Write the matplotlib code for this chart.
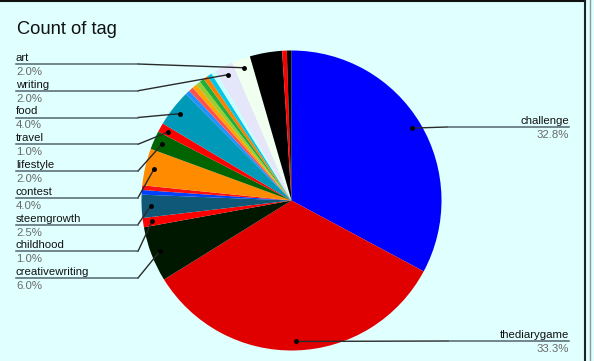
import numpy as np
import matplotlib
matplotlib.use("Agg")
import matplotlib.pyplot as plt

# tag counts, clockwise from 12 o'clock (total 201)
tags = ["challenge", "thediarygame", "creativewriting", "childhood", "steemgrowth",
        "t6", "t7", "contest", "lifestyle", "travel", "food",
        "t12", "t13", "t14", "t15", "t16", "t17", "t18", "t19",
        "writing", "art", "t22", "t23", "t24"]
counts = [66, 67, 12, 2, 5,
          1, 1, 8, 4, 2, 8,
          1, 1, 1, 1, 1, 1, 1, 1,
          4, 4, 7, 1, 1]
colors = ["#0000ff", "#e00000", "#001800", "#ff0000", "#105878",
          "#0040ff", "#ff1010", "#ff8c00", "#006400", "#ff0000", "#0099b8",
          "#1e90ff", "#ff5050", "#ffa500", "#9acd32", "#1fae3c", "#ff7f00", "#00c8e8", "#c8ffff",
          "#e6e6fa", "#f0fff0", "#000000", "#ff0000", "#000000"]

left_tags = ["art", "writing", "food", "travel", "lifestyle", "contest",
             "steemgrowth", "childhood", "creativewriting"]
right_tags = ["challenge", "thediarygame"]

W, H = 594, 361
bg = "#e0ffff"
plt.rcParams['font.family'] = ['Liberation Sans', 'DejaVu Sans']

fig = plt.figure(figsize=(W / 100, H / 100), dpi=100, facecolor=bg)
ax = fig.add_axes([0, 0, 1, 1])
ax.set_facecolor(bg)
ax.set_xlim(0, W)
ax.set_ylim(0, H)
ax.set_aspect('equal')
ax.axis('off')


def Y(y):
    # pixel rows are counted from the top
    return H - y


cx, cy, r = 291.5, Y(200.5), 150
wedges, _ = ax.pie(counts, colors=colors, startangle=90, counterclock=False,
                   center=(cx, cy), radius=r, frame=True,
                   wedgeprops=dict(linewidth=0))
ax.set_xlim(0, W)
ax.set_ylim(0, H)
ax.axis('off')

total = sum(counts)
line_col = "#52646e"
dark_col = "#2a2a2a"


def tip(name):
    w = wedges[tags.index(name)]
    a = np.deg2rad((w.theta1 + w.theta2) / 2)
    return cx + 0.94 * r * np.cos(a), cy + 0.94 * r * np.sin(a)


def callout(name, yline, x_end, x_bend, ha):
    px, py = tip(name)
    pct = counts[tags.index(name)] / total * 100
    ax.plot([px, x_bend], [py, Y(yline)], color=dark_col, lw=1)
    ax.plot([x_bend, x_end], [Y(yline), Y(yline)], color=line_col, lw=1.1)
    ax.plot(px, py, 'o', color='black', ms=2.5)
    ax.text(x_end, Y(yline - 3), name, ha=ha, va='baseline', fontsize=8.2,
            color='#111111')
    ax.text(x_end, Y(yline + 8), f"{pct:.1f}%", ha=ha, va='center',
            fontsize=8.2, color='#6a6a6a')


for i, name in enumerate(left_tags):
    callout(name, 64 + i * 26.75, 16, 138, 'left')

callout("challenge", 127, 569, 447, 'right')
callout("thediarygame", 341, 569, 448, 'right')

ax.text(17, Y(30), "Count of tag", fontsize=13.2, ha='left', va='center',
        color='#111111')

# frame lines on top and right
ax.plot([0, 585], [Y(0.8), Y(0.8)], color='#111111', lw=1.5)
ax.plot([585, 585], [0, H], color='#222222', lw=1.5)
ax.plot([590, 590], [0, H], color='#8a9a9a', lw=1)

fig.savefig("out.png", dpi=100, facecolor=bg)
